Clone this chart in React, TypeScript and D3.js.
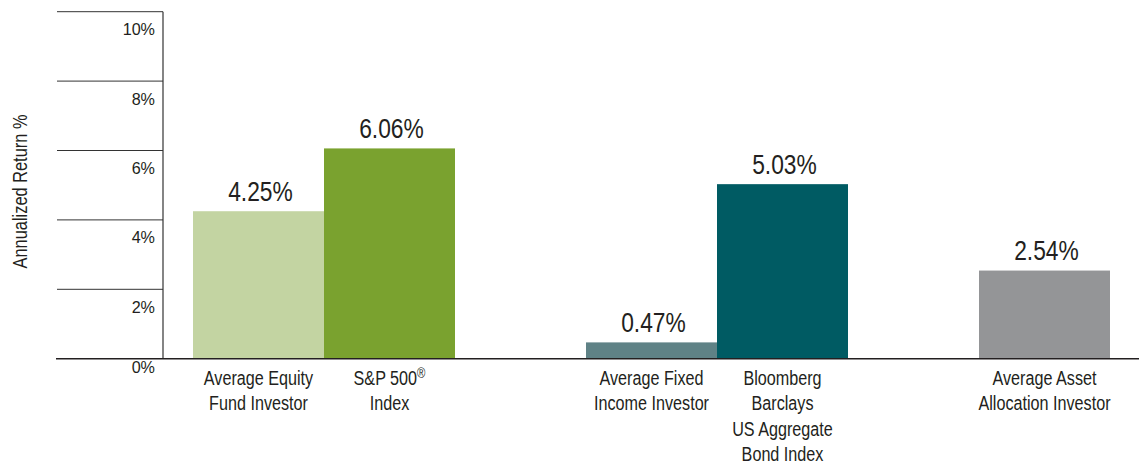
import React from "react";
import * as d3 from "d3";

const categories: string[][] = [
  ["Average Equity", "Fund Investor"],
  ["S&P 500®", "Index"],
  ["Average Fixed", "Income Investor"],
  ["Bloomberg", "Barclays", "US Aggregate", "Bond Index"],
  ["Average Asset", "Allocation Investor"],
];
const values: number[] = [4.25, 6.06, 0.47, 5.03, 2.54];
const groups: number[] = [0, 0, 1, 1, 2];
const colors: string[] = ["#c3d4a2", "#7aa22f", "#5f8286", "#005b63", "#949597"];
const yTicks: number[] = [0, 2, 4, 6, 8, 10];

const W = 1139;
const H = 464;
const FONT = "'Liberation Sans', Arial, sans-serif";
const TEXT = "#231f20";

function T(props: {
  x: number;
  y: number;
  sx: number;
  size: number;
  anchor?: string;
  rotate?: number;
  children: React.ReactNode;
}) {
  const { x, y, sx, size, anchor = "middle", rotate = 0, children } = props;
  return (
    <text
      transform={`translate(${x},${y}) rotate(${rotate}) scale(${sx},1)`}
      textAnchor={anchor}
      fontSize={size}
      fill={TEXT}
    >
      {children}
    </text>
  );
}

function withSup(s: string): React.ReactNode {
  const i = s.indexOf("®");
  if (i < 0) return s;
  return (
    <>
      {s.slice(0, i)}
      <tspan fontSize="0.7em" dy="-0.45em">®</tspan>
      {s.slice(i + 1)}
    </>
  );
}

export default function App() {
  const axisX = 163;
  const gridLeft = 57;
  const y = d3.scaleLinear().domain([0, 10]).range([358.7, 11.7]);
  const slots = categories.map((_, i) => String(i + groups[i]));
  const allSlots = d3.range(0, d3.max(slots.map(Number))! + 1).map(String);
  const x = d3.scaleBand<string>().domain(allSlots).range([193, 1110]).padding(0);

  return (
    <div style={{ position: "absolute", left: 0, top: 0, width: W, height: H, overflow: "hidden" }}>
      <svg width={W} height={H} style={{ display: "block", fontFamily: FONT }}>
        <rect width={W} height={H} fill="#fff" />
        {yTicks.map((t) =>
          t === 0 ? null : (
            <line key={"g" + t} x1={gridLeft} x2={axisX} y1={y(t)} y2={y(t)} stroke="#333" strokeWidth={1} />
          )
        )}
        {yTicks.map((t) => (
          <T key={"t" + t} x={155} y={y(t) + (t === 0 ? 14.3 : 23.4)} sx={0.98} size={16.5} anchor="end">
            {t + "%"}
          </T>
        ))}
        <line x1={axisX} x2={axisX} y1={y(10)} y2={y(0)} stroke="#333" strokeWidth={1.2} />
        <T x={26.5} y={191.5} sx={0.82} size={20} rotate={-90}>
          Annualized Return %
        </T>
        {values.map((v, i) => {
          const bx = x(slots[i])!;
          const bw = x.bandwidth();
          return (
            <g key={"b" + i}>
              <rect x={bx} y={y(v)} width={bw} height={y(0) - y(v)} fill={colors[i]} />
              <T x={bx + bw / 2 + 2} y={y(v) - 10.5} sx={0.8} size={28.5}>
                {v.toFixed(2) + "%"}
              </T>
              {categories[i].map((line, j) => (
                <T key={j} x={bx + bw / 2} y={385 + j * 25.3} sx={0.77} size={21}>
                  {withSup(line)}
                </T>
              ))}
            </g>
          );
        })}
        <line x1={56} x2={W} y1={y(0)} y2={y(0)} stroke="#231f20" strokeWidth={1.6} />
      </svg>
    </div>
  );
}
